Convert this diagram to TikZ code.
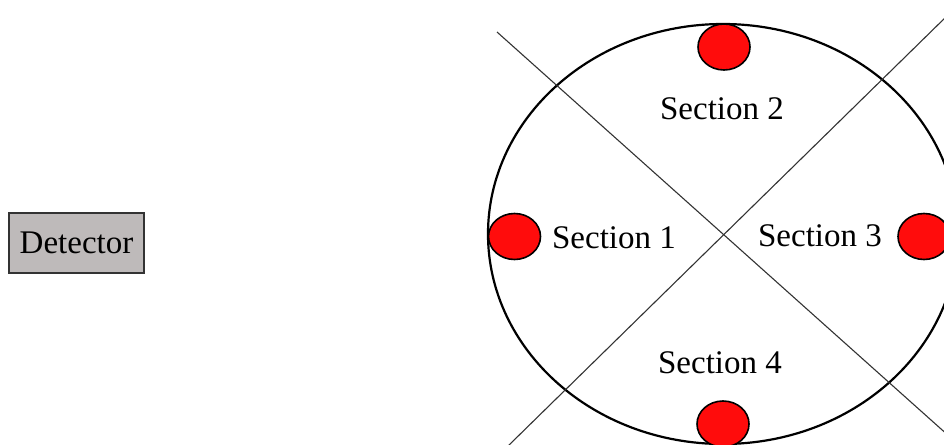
\documentclass[tikz,border=0pt]{standalone}
\usepackage{fontspec}
\setmainfont{Liberation Serif}
\usetikzlibrary{shapes.geometric}
\definecolor{blobred}{RGB}{255,12,12}
\definecolor{detgray}{RGB}{190,186,186}
\begin{document}
\begin{tikzpicture}[x=1pt,y=-1pt,
  lbl/.style={font=\fontsize{33}{40}\selectfont, anchor=base, inner sep=0pt},
  blob/.style={ellipse, draw=black, line width=1.6pt, fill=blobred, minimum width=52pt, minimum height=46pt, inner sep=0pt},
  divider/.style={draw=black!80, line width=1.1pt},
  detbox/.style={draw=black!80, line width=1.3pt, fill=detgray, minimum width=135pt, minimum height=60pt, inner sep=0pt, font=\fontsize{33}{40}\selectfont}]
\useasboundingbox (0,0) rectangle (944,444);
\clip (0,0) rectangle (944,444);
\fill[white] (0,0) rectangle (944,444);
% outer ellipse
\draw[line width=2.2pt] (723,234) ellipse [x radius=235, y radius=210];
% dividing lines
\coordinate (l1a) at (497,32);
\coordinate (l1b) at (950,437);
\coordinate (l2a) at (508,446);
\coordinate (l2b) at (950,13);
\draw[divider] (l1a) -- (l1b);
\draw[divider] (l2a) -- (l2b);
% red markers
\node[blob] (b2) at (724,47) {};
\node[blob] (b1) at (514.5,236.5) {};
\node[blob] (b3) at (924,236.5) {};
\node[blob] (b4) at (723,424) {};
% labels
\node[lbl] (s2) at (722,119) {Section 2};
\node[lbl] (s1) at (614,248) {Section 1};
\node[lbl] (s3) at (820,246) {Section 3};
\node[lbl] (s4) at (720,373) {Section 4};
% detector
\node[detbox] (det) at (76.5,243) {Detector};
\end{tikzpicture}
\end{document}
